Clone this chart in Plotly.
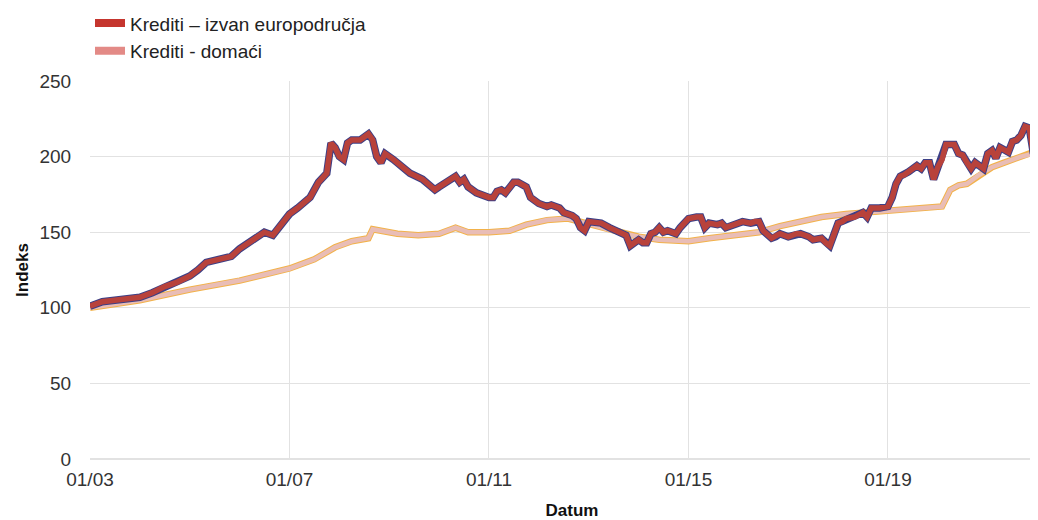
import plotly.graph_objects as go

# Data
foreign_dates = ["2003-01","2003-04","2003-07","2003-10","2004-01","2004-04","2004-07","2004-10","2005-01","2005-03","2005-05","2005-08","2005-11","2006-01","2006-04","2006-07","2006-09","2006-11","2007-01","2007-03","2007-06","2007-08","2007-10","2007-11","2007-12","2008-01","2008-02","2008-03","2008-04","2008-06","2008-07","2008-08","2008-09","2008-10","2008-11","2008-12","2009-02","2009-04","2009-06","2009-09","2009-12","2010-01","2010-03","2010-05","2010-06","2010-07","2010-08","2010-10","2011-01","2011-02","2011-03","2011-04","2011-05","2011-06","2011-07","2011-08","2011-10","2011-11","2012-01","2012-03","2012-04","2012-06","2012-07","2012-09","2012-10","2012-11","2012-12","2013-01","2013-03","2013-04","2013-06","2013-08","2013-10","2013-11","2014-01","2014-02","2014-03","2014-04","2014-05","2014-06","2014-07","2014-08","2014-10","2014-11","2015-01","2015-03","2015-04","2015-05","2015-06","2015-08","2015-09","2015-10","2016-01","2016-02","2016-04","2016-05","2016-06","2016-07","2016-09","2016-10","2016-11","2017-01","2017-03","2017-04","2017-06","2017-07","2017-09","2017-10","2017-11","2018-01","2018-02","2018-03","2018-05","2018-07","2018-08","2018-09","2018-11","2019-01","2019-02","2019-03","2019-04","2019-05","2019-06","2019-08","2019-09","2019-10","2019-11","2019-12","2020-01","2020-02","2020-03","2020-05","2020-06","2020-07","2020-08","2020-09","2020-10","2020-12","2021-01","2021-02","2021-03","2021-04","2021-06","2021-07","2021-08","2021-09","2021-10","2021-11","2021-12","2022-01"]
foreign_values = [101,104,105,106,107,110,114,117,121,125,130,132,134,139,145,150,148,155,162,166,173,183,189,209,206,200,198,209,211,211,213,215,211,200,196,202,198,193,189,185,178,180,183,187,183,185,180,176,173,173,177,178,176,179,183,183,180,173,169,167,168,166,163,161,159,153,151,157,156,156,153,150,148,141,145,143,143,149,150,153,150,151,149,153,159,160,160,153,156,155,156,153,156,157,156,157,157,151,146,147,149,147,149,149,147,145,146,143,141,156,157,159,160,163,160,166,166,167,173,182,187,188,190,194,192,196,196,185,193,198,208,208,202,201,196,192,196,192,202,204,199,206,203,210,211,214,220,219,202,224]

domestic_dates = ["2003-01","2004-01","2005-01","2006-01","2007-01","2007-07","2007-12","2008-04","2008-08","2008-09","2008-11","2009-03","2009-08","2010-01","2010-05","2010-08","2011-01","2011-06","2011-10","2012-03","2012-08","2012-11","2013-03","2013-08","2014-01","2014-06","2015-01","2015-06","2016-01","2016-06","2016-11","2017-04","2017-09","2018-03","2018-08","2019-01","2019-06","2019-11","2020-02","2020-04","2020-06","2020-08","2020-11","2021-02","2021-05","2021-09","2021-12","2022-01"]
domestic_values = [100,105,112,118,126,132,140,144,146,152,151,149,148,149,153,150,150,151,155,158,159,157,154,150,147,145,144,146,148,150,154,157,160,162,163,164,165,166,167,178,181,182,188,193,196,200,202,204]

name_foreign = "Krediti – izvan europodručja"
name_domestic = "Krediti - domaći"
y_ticks = [0, 50, 100, 150, 200, 250]
x_ticks = ["2003-01-01", "2007-01-01", "2011-01-01", "2015-01-01", "2019-01-01"]
x_ticklabels = ["01/03", "01/07", "01/11", "01/15", "01/19"]

FONT = "Arial, Liberation Sans, sans-serif"

fig = go.Figure()
# domestic: orange edge + light pink body
fig.add_trace(go.Scatter(x=domestic_dates, y=domestic_values, mode="lines",
                         line=dict(color="#f2b24a", width=6.5), showlegend=False, hoverinfo="skip"))
fig.add_trace(go.Scatter(x=domestic_dates, y=domestic_values, mode="lines",
                         line=dict(color="#e9bdb6", width=4.5), showlegend=False))
# foreign: navy edge + dark red body
fig.add_trace(go.Scatter(x=foreign_dates, y=foreign_values, mode="lines",
                         line=dict(color="#3c3f86", width=7.5), showlegend=False, hoverinfo="skip"))
fig.add_trace(go.Scatter(x=foreign_dates, y=foreign_values, mode="lines",
                         line=dict(color="#b8423b", width=5.5), showlegend=False))
# legend entries
fig.add_trace(go.Scatter(x=[None], y=[None], mode="lines", name=name_foreign,
                         line=dict(color="#c5352e", width=8)))
fig.add_trace(go.Scatter(x=[None], y=[None], mode="lines", name=name_domestic,
                         line=dict(color="#e38a86", width=8)))

fig.update_layout(
    width=1046, height=512,
    margin=dict(l=82, r=0, t=73, b=61, autoexpand=False),
    paper_bgcolor="white", plot_bgcolor="white",
    font=dict(family=FONT, size=19, color="#333333"),
    legend=dict(x=0.0, y=1.203, xanchor="left", yanchor="top",
                font=dict(size=19, color="#222222"), bgcolor="rgba(0,0,0,0)",
                tracegroupgap=0, itemwidth=30),
    showlegend=True,
)
fig.update_xaxes(
    type="date", range=["2003-01-01", "2022-05-01"],
    tickvals=x_ticks, ticktext=x_ticklabels,
    showgrid=True, gridcolor="#e2e2e2", gridwidth=1,
    showline=False, zeroline=False, automargin=False,
    ticks="outside", ticklen=3, tickcolor="rgba(0,0,0,0)",
    tickfont=dict(size=19, color="#333333"),
    title=dict(text="<b>Datum</b>", font=dict(size=17, color="#111111"), standoff=18),
)
fig.update_yaxes(
    range=[0, 250], tickvals=y_ticks,
    showgrid=True, gridcolor="#e2e2e2", gridwidth=1,
    zeroline=True, zerolinecolor="#e2e2e2", zerolinewidth=2,
    showline=False, automargin=False,
    ticks="outside", ticklen=14, tickcolor="rgba(0,0,0,0)",
    tickfont=dict(size=19, color="#333333"),
    title=dict(text="<b>Indeks</b>", font=dict(size=17, color="#111111"), standoff=6),
)

fig.write_html("out.html")
